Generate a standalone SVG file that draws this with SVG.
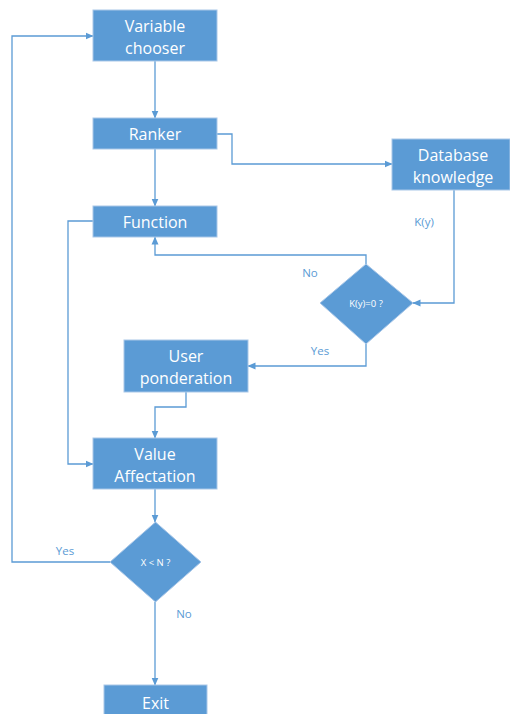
<svg xmlns="http://www.w3.org/2000/svg" width="510" height="714" viewBox="0 0 510 714">
<style>
.box{fill:#5B9BD5;stroke:#A9C7E8;stroke-width:1}
.t{font-family:"Open Sans","Liberation Sans",sans-serif;font-size:16px;fill:#fff;text-anchor:middle}
.ts{font-family:"Open Sans","Liberation Sans",sans-serif;font-size:9.5px;fill:#fff;text-anchor:middle}
.lbl{font-family:"Open Sans","Liberation Sans",sans-serif;font-size:11.5px;fill:#5B9BD5;text-anchor:middle}
.c{fill:none;stroke:#5B9BD5;stroke-width:1.3}
</style>
<defs>
<marker id="a" markerWidth="8" markerHeight="8" refX="7.5" refY="4" orient="auto" markerUnits="userSpaceOnUse">
<path d="M0,0.5 L8,4 L0,7.5 Z" fill="#5B9BD5"/>
</marker>
</defs>
<rect width="510" height="714" fill="#fff"/>
<g id="connectors">
<path class="c" d="M155,61 V118" marker-end="url(#a)"/>
<path class="c" d="M155,149 V206" marker-end="url(#a)"/>
<path class="c" d="M217,134 H232 V164 H392" marker-end="url(#a)"/>
<path class="c" d="M454,190 V303 H413" marker-end="url(#a)"/>
<path class="c" d="M366,264 V255 H155 V237" marker-end="url(#a)"/>
<path class="c" d="M366,344 V366 H248" marker-end="url(#a)"/>
<path class="c" d="M186,392 V407 H155 V438" marker-end="url(#a)"/>
<path class="c" d="M93,221 H68 V464 H93" marker-end="url(#a)"/>
<path class="c" d="M155,489 V522" marker-end="url(#a)"/>
<path class="c" d="M110,562 H12 V36 H93" marker-end="url(#a)"/>
<path class="c" d="M155,602 V685" marker-end="url(#a)"/>
<text class="lbl" x="424" y="226">K(y)</text>
<text class="lbl" x="310" y="277">No</text>
<text class="lbl" x="320" y="355">Yes</text>
<text class="lbl" x="65" y="555">Yes</text>
<text class="lbl" x="184" y="618">No</text>
</g>
<g id="variable-chooser">
<rect class="box" x="93" y="10" width="124" height="51"/>
<text class="t" x="155" y="31.5">Variable</text>
<text class="t" x="155" y="53.5">chooser</text>
</g>
<g id="ranker">
<rect class="box" x="93" y="118" width="124" height="31"/>
<text class="t" x="155" y="139.5">Ranker</text>
</g>
<g id="function">
<rect class="box" x="93" y="206" width="124" height="31"/>
<text class="t" x="155" y="227.5">Function</text>
</g>
<g id="database-knowledge">
<rect class="box" x="392" y="139" width="118" height="51"/>
<text class="t" x="453" y="160.5">Database</text>
<text class="t" x="453" y="182.5">knowledge</text>
</g>
<g id="ky-decision">
<path class="box" d="M366,264 L413,303 L366,344 L320,303 Z"/>
<text class="ts" x="366" y="307">K(y)=0 ?</text>
</g>
<g id="user-ponderation">
<rect class="box" x="124" y="340" width="124" height="52"/>
<text class="t" x="186" y="361.5">User</text>
<text class="t" x="186" y="383.5">ponderation</text>
</g>
<g id="value-affectation">
<rect class="box" x="93" y="438" width="124" height="51"/>
<text class="t" x="155" y="459.5">Value</text>
<text class="t" x="155" y="481.5">Affectation</text>
</g>
<g id="xn-decision">
<path class="box" d="M155.5,522 L201,562 L155.5,602 L110,562 Z"/>
<text class="ts" x="155.5" y="566">X &lt; N ?</text>
</g>
<g id="exit">
<rect class="box" x="104" y="685" width="103" height="34"/>
<text class="t" x="155.5" y="708.5">Exit</text>
</g>
</svg>
